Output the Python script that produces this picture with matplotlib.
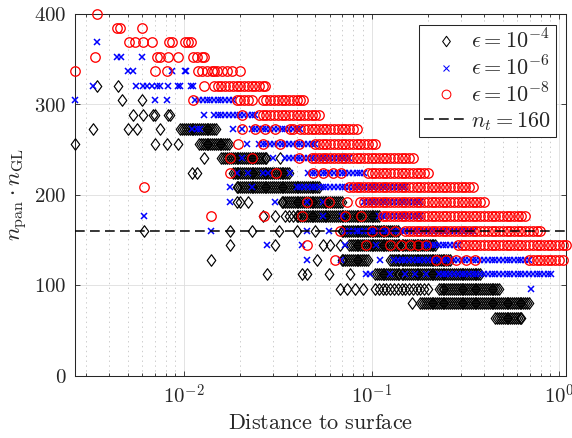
import matplotlib
matplotlib.use('Agg')
import matplotlib.pyplot as plt
from matplotlib.path import Path
from matplotlib.lines import Line2D

plt.rcParams['mathtext.fontset'] = 'cm'
plt.rcParams['font.family'] = ['DejaVu Serif']
plt.rcParams['axes.unicode_minus'] = False
plt.rcParams['lines.scale_dashes'] = False

# ---------------- data ----------------
levels = [400, 384, 368, 352, 336, 320, 304, 288, 272, 256, 240, 224,
          208, 192, 176, 160, 144, 128, 112, 96, 80, 64]

# epsilon = 1e-4 (black diamonds): x positions per level
eps4_x = [
    [], [], [], [], [],
    [0.00345, 0.00447],
    [0.00465, 0.00594],
    [0.00537, 0.00606, 0.00686, 0.00700, 0.00825, 0.00842],
    [0.00328, 0.00505, 0.00559, 0.00745, 0.00955, 0.00977, 0.0100, 0.0102, 0.0105, 0.0107, 0.0110, 0.0112, 0.0115, 0.0117, 0.0120, 0.0123, 0.0126, 0.0129, 0.0132, 0.0135, 0.0138, 0.0141, 0.0145, 0.0148],
    [0.00262, 0.00700, 0.00810, 0.00930, 0.0120, 0.0123, 0.0126, 0.0129, 0.0132, 0.0135, 0.0138, 0.0141, 0.0145, 0.0148, 0.0151, 0.0155, 0.0158, 0.0162, 0.0166, 0.0170, 0.0174],
    [0.0127, 0.0158, 0.0162, 0.0166, 0.0170, 0.0174, 0.0178, 0.0182, 0.0186, 0.0191, 0.0195, 0.0200, 0.0204, 0.0209, 0.0214, 0.0219, 0.0224, 0.0229, 0.0234, 0.0240, 0.0245, 0.0251, 0.0257, 0.0263, 0.0269, 0.0275, 0.0325],
    [0.0110, 0.0117, 0.0182, 0.0186, 0.0191, 0.0195, 0.0200, 0.0204, 0.0209, 0.0214, 0.0219, 0.0224, 0.0229, 0.0234, 0.0240, 0.0245, 0.0251, 0.0257, 0.0263, 0.0269, 0.0275, 0.0282, 0.0288, 0.0295, 0.0302, 0.0309, 0.0316, 0.0324, 0.0331, 0.0339, 0.0347, 0.0355, 0.0363],
    [0.0191, 0.0195, 0.0200, 0.0204, 0.0209, 0.0214, 0.0219, 0.0224, 0.0229, 0.0234, 0.0240, 0.0245, 0.0251, 0.0257, 0.0263, 0.0269, 0.0275, 0.0282, 0.0288, 0.0295, 0.0302, 0.0309, 0.0316, 0.0324, 0.0331, 0.0339, 0.0347, 0.0355, 0.0363, 0.0372, 0.0380, 0.0389, 0.0398, 0.0407, 0.0417, 0.0427, 0.0437, 0.0447, 0.0457, 0.0468, 0.0479, 0.0490, 0.0501, 0.0513, 0.0525],
    [0.0191, 0.0199, 0.0220, 0.0331, 0.0339, 0.0347, 0.0355, 0.0363, 0.0372, 0.0380, 0.0389, 0.0398, 0.0407, 0.0417, 0.0427, 0.0437, 0.0447, 0.0457, 0.0468, 0.0479, 0.0490, 0.0501, 0.0513, 0.0525, 0.0537, 0.0550, 0.0562, 0.0575, 0.0589, 0.0603, 0.0617, 0.0631, 0.0646, 0.0661, 0.0676, 0.0692],
    [0.0265, 0.0306, 0.0347, 0.0363, 0.0380, 0.0398, 0.0407, 0.0417, 0.0427, 0.0437, 0.0447, 0.0457, 0.0468, 0.0479, 0.0490, 0.0501, 0.0513, 0.0525, 0.0537, 0.0550, 0.0562, 0.0575, 0.0589, 0.0603, 0.0617, 0.0631, 0.0646, 0.0661, 0.0676, 0.0692, 0.0708, 0.0724, 0.0741, 0.0759, 0.0776, 0.0794, 0.0813, 0.0832, 0.0851, 0.0871, 0.0891, 0.0912, 0.0933, 0.0955, 0.0977, 0.100, 0.102, 0.105, 0.107, 0.110],
    [0.0061, 0.0176, 0.0229, 0.0320, 0.0398, 0.0500, 0.0692, 0.0708, 0.0724, 0.0741, 0.0759, 0.0776, 0.0794, 0.0813, 0.0832, 0.0851, 0.0871, 0.0891, 0.0912, 0.0933, 0.0955, 0.0977, 0.100, 0.102, 0.105, 0.107, 0.110, 0.112, 0.115, 0.117, 0.120, 0.123, 0.126, 0.129, 0.132, 0.135, 0.138],
    [0.0176, 0.0306, 0.0550, 0.0600, 0.0680, 0.0759, 0.0776, 0.0794, 0.0813, 0.0832, 0.0851, 0.0871, 0.0891, 0.0912, 0.0933, 0.0955, 0.0977, 0.100, 0.102, 0.105, 0.107, 0.110, 0.112, 0.115, 0.117, 0.120, 0.123, 0.126, 0.129, 0.132, 0.135, 0.138, 0.141, 0.145, 0.148, 0.151, 0.155, 0.158, 0.162, 0.166, 0.170, 0.174, 0.178, 0.182, 0.186, 0.191, 0.195, 0.200, 0.204, 0.209, 0.214, 0.219],
    [0.0140, 0.0510, 0.0692, 0.0708, 0.0724, 0.0741, 0.0759, 0.0776, 0.0794, 0.0813, 0.0832, 0.0851, 0.0871, 0.0891, 0.0912, 0.0933, 0.0955, 0.126, 0.129, 0.132, 0.135, 0.138, 0.141, 0.145, 0.148, 0.151, 0.155, 0.158, 0.162, 0.166, 0.170, 0.174, 0.178, 0.182, 0.186, 0.191, 0.195, 0.200, 0.204, 0.209, 0.214, 0.219, 0.224, 0.229, 0.234, 0.240, 0.245, 0.251, 0.257, 0.263],
    [0.0276, 0.0424, 0.0450, 0.0590, 0.0768, 0.105, 0.107, 0.110, 0.112, 0.115, 0.117, 0.120, 0.123, 0.126, 0.129, 0.132, 0.135, 0.138, 0.141, 0.145, 0.148, 0.151, 0.155, 0.158, 0.162, 0.166, 0.170, 0.174, 0.178, 0.182, 0.186, 0.191, 0.195, 0.200, 0.204, 0.209, 0.214, 0.219, 0.224, 0.229, 0.234, 0.240, 0.245, 0.251, 0.257, 0.263, 0.269, 0.275, 0.282, 0.288, 0.295, 0.302, 0.309, 0.316, 0.324, 0.331, 0.339, 0.347, 0.355, 0.363, 0.372, 0.380],
    [0.0680, 0.0740, 0.0820, 0.0900, 0.105, 0.110, 0.115, 0.120, 0.126, 0.132, 0.138, 0.145, 0.151, 0.158, 0.166, 0.174, 0.182, 0.191, 0.200, 0.229, 0.234, 0.240, 0.245, 0.251, 0.257, 0.263, 0.269, 0.275, 0.282, 0.288, 0.295, 0.302, 0.309, 0.316, 0.324, 0.331, 0.339, 0.347, 0.355, 0.363, 0.372, 0.380, 0.389, 0.398, 0.407, 0.417, 0.427, 0.437, 0.447, 0.457, 0.468, 0.479],
    [0.165, 0.182, 0.186, 0.191, 0.195, 0.200, 0.204, 0.209, 0.214, 0.219, 0.224, 0.229, 0.234, 0.240, 0.245, 0.251, 0.257, 0.263, 0.269, 0.275, 0.282, 0.288, 0.295, 0.302, 0.309, 0.316, 0.324, 0.331, 0.339, 0.347, 0.355, 0.363, 0.372, 0.380, 0.389, 0.398, 0.407, 0.417, 0.427, 0.437, 0.447, 0.457, 0.468, 0.479, 0.490, 0.501, 0.513, 0.525, 0.537, 0.550, 0.562, 0.575, 0.589, 0.603, 0.617, 0.631, 0.646, 0.661, 0.676, 0.692],
    [0.457, 0.468, 0.479, 0.490, 0.501, 0.513, 0.525, 0.537, 0.550, 0.562, 0.575, 0.589, 0.603, 0.617, 0.631],
]

# epsilon = 1e-6 (blue crosses)
eps6_x = [
    [], [],
    [0.00342],
    [0.00441, 0.00459, 0.00594],
    [0.00505, 0.00537, 0.00860, 0.0101, 0.0103],
    [0.00328, 0.00554, 0.00602, 0.00637, 0.00673, 0.00715, 0.00745, 0.00825, 0.00932, 0.00952, 0.0109, 0.0112],
    [0.00262, 0.00700, 0.00815, 0.0115, 0.0120, 0.0126, 0.0132, 0.0138, 0.0145, 0.0151, 0.0158, 0.0166, 0.0174, 0.0182],
    [0.0127, 0.0145, 0.0151, 0.0158, 0.0166, 0.0174, 0.0182, 0.0191, 0.0200, 0.0209, 0.0219, 0.0229, 0.0240],
    [0.0110, 0.0117, 0.0122, 0.0183, 0.0203, 0.0229, 0.0240, 0.0251, 0.0263, 0.0275, 0.0288, 0.0302, 0.0316, 0.0331, 0.0347, 0.0363, 0.0380, 0.0398, 0.0417],
    [0.0216, 0.0251, 0.0263, 0.0275, 0.0288, 0.0302, 0.0316, 0.0331, 0.0347, 0.0363, 0.0380, 0.0398, 0.0417, 0.0437, 0.0457, 0.0479, 0.0501],
    [0.0203, 0.0300, 0.0347, 0.0363, 0.0380, 0.0398, 0.0417, 0.0437, 0.0457, 0.0479, 0.0501, 0.0525, 0.0550, 0.0575, 0.0603, 0.0631, 0.0661, 0.0692, 0.0724, 0.0759],
    [0.0191, 0.0220, 0.0265, 0.0280, 0.0367, 0.0457, 0.0479, 0.0501, 0.0525, 0.0550, 0.0575, 0.0603, 0.0631, 0.0661, 0.0692, 0.0724, 0.0759, 0.0794, 0.0832, 0.0871, 0.0912],
    [0.0176, 0.0229, 0.0398, 0.0417, 0.0437, 0.0457, 0.0479, 0.0501, 0.0525, 0.0550, 0.0575, 0.0603, 0.0631, 0.0661, 0.0692, 0.0724, 0.0759, 0.0794, 0.0832, 0.0871, 0.0912, 0.0955, 0.100, 0.105, 0.110, 0.115, 0.120, 0.126, 0.132, 0.138, 0.145, 0.151],
    [0.0176, 0.0306, 0.0450, 0.0550, 0.0912, 0.0955, 0.100, 0.105, 0.110, 0.115, 0.120, 0.126, 0.132, 0.138, 0.145, 0.151, 0.158, 0.166, 0.174, 0.182],
    [0.0061, 0.0550, 0.0700, 0.110, 0.115, 0.120, 0.126, 0.132, 0.138, 0.145, 0.151, 0.158, 0.166, 0.174, 0.182],
    [0.0140, 0.0450, 0.0590, 0.0724, 0.0759, 0.0794, 0.0832, 0.0871, 0.0912, 0.0955, 0.100, 0.105, 0.110, 0.115, 0.120, 0.126, 0.132, 0.138, 0.145, 0.151, 0.158, 0.166, 0.174, 0.182, 0.191, 0.200, 0.209, 0.219, 0.229, 0.240, 0.251, 0.263, 0.275, 0.288, 0.302, 0.316, 0.331, 0.347],
    [0.0276, 0.0424, 0.0720, 0.106, 0.191, 0.200, 0.209, 0.219, 0.229, 0.240, 0.251, 0.263, 0.275, 0.288],
    [0.0450, 0.0690, 0.111, 0.132, 0.138, 0.145, 0.151, 0.158, 0.166, 0.174, 0.182, 0.191, 0.200, 0.209, 0.219, 0.229, 0.240, 0.251, 0.263, 0.275, 0.288, 0.302, 0.316, 0.331, 0.347, 0.363, 0.380, 0.398, 0.417, 0.437, 0.457, 0.479, 0.501, 0.525, 0.550, 0.575, 0.603, 0.631, 0.661, 0.692],
    [0.0940, 0.0980, 0.126, 0.150, 0.170, 0.196, 0.228, 0.240, 0.251, 0.263, 0.275, 0.288, 0.302, 0.316, 0.331, 0.347, 0.363, 0.380, 0.398, 0.417, 0.437, 0.457, 0.479, 0.501, 0.525, 0.550, 0.575, 0.603, 0.631, 0.661, 0.692, 0.724, 0.759, 0.794, 0.832, 0.871, 0.912],
    [0.710],
    [],
    [],
]

# epsilon = 1e-8 (red circles)
eps8_x = [
    [0.00342],
    [0.00441, 0.00456, 0.00594],
    [0.00510, 0.00548, 0.00606, 0.00673, 0.00835, 0.00860, 0.0101, 0.0105, 0.0109],
    [0.00335, 0.00714, 0.00745, 0.00824, 0.00933, 0.0112, 0.0117, 0.0124, 0.0127],
    [0.00262, 0.00700, 0.00809, 0.0118, 0.0124, 0.0132, 0.0141, 0.0145, 0.0149, 0.0159, 0.0169, 0.0180, 0.0199],
    [0.0127, 0.0145, 0.0151, 0.0158, 0.0166, 0.0174, 0.0182, 0.0191, 0.0200, 0.0209, 0.0219, 0.0229, 0.0240, 0.0251, 0.0263, 0.0270],
    [0.0111, 0.0191, 0.0200, 0.0209, 0.0219, 0.0229, 0.0263, 0.0275, 0.0288, 0.0302, 0.0316, 0.0331, 0.0347, 0.0363, 0.0380, 0.0398, 0.0417, 0.0432],
    [0.0203, 0.0251, 0.0263, 0.0275, 0.0288, 0.0302, 0.0316, 0.0331, 0.0347, 0.0363, 0.0380, 0.0398, 0.0417, 0.0437, 0.0457, 0.0479, 0.0501, 0.0525],
    [0.0203, 0.0239, 0.0270, 0.0306, 0.0367, 0.0383, 0.0417, 0.0437, 0.0457, 0.0479, 0.0501, 0.0525, 0.0550, 0.0575, 0.0603, 0.0631, 0.0661, 0.0692, 0.0724, 0.0759, 0.0794, 0.0832],
    [0.0195, 0.0265, 0.0325, 0.0408, 0.0501, 0.0525, 0.0550, 0.0575, 0.0603, 0.0631, 0.0661, 0.0692, 0.0724, 0.0759, 0.0794, 0.0832, 0.0871, 0.0912, 0.0955, 0.100, 0.105],
    [0.0176, 0.0229, 0.0408, 0.0479, 0.0501, 0.0525, 0.0550, 0.0575, 0.0603, 0.0631, 0.0661, 0.0692, 0.0724, 0.0759, 0.0794, 0.0832, 0.0871, 0.0912, 0.0955, 0.100, 0.105, 0.110, 0.115, 0.120, 0.126, 0.132, 0.138, 0.145, 0.151, 0.158, 0.166],
    [0.0176, 0.0310, 0.0490, 0.0550, 0.0620, 0.0690, 0.0955, 0.100, 0.105, 0.110, 0.115, 0.120, 0.126, 0.132, 0.138, 0.145, 0.151, 0.158, 0.166, 0.174, 0.182, 0.191, 0.200],
    [0.0061, 0.0759, 0.0794, 0.0832, 0.0871, 0.0912, 0.0955, 0.100, 0.105, 0.110, 0.115, 0.120, 0.126, 0.132, 0.138, 0.145, 0.151, 0.158, 0.166, 0.174, 0.182, 0.191, 0.200, 0.209, 0.219, 0.229, 0.240, 0.251, 0.263, 0.275, 0.288, 0.302, 0.316, 0.331, 0.347],
    [0.0450, 0.0590, 0.0740, 0.0870, 0.0912, 0.0955, 0.100, 0.105, 0.110, 0.115, 0.120, 0.126, 0.132, 0.138, 0.145, 0.151, 0.158, 0.166, 0.174, 0.182, 0.191, 0.200, 0.209, 0.219, 0.229, 0.240, 0.251, 0.263, 0.275, 0.288, 0.302, 0.316, 0.331, 0.347, 0.363, 0.380, 0.398],
    [0.0140, 0.0267, 0.0424, 0.0720, 0.0880, 0.115, 0.120, 0.126, 0.132, 0.138, 0.145, 0.151, 0.158, 0.166, 0.174, 0.182, 0.191, 0.200, 0.209, 0.219, 0.229, 0.240, 0.251, 0.263, 0.275, 0.288, 0.302, 0.316, 0.331, 0.347, 0.363, 0.380, 0.398, 0.417, 0.437, 0.457, 0.479, 0.501, 0.525, 0.550, 0.575, 0.603, 0.631, 0.661],
    [0.0680, 0.100, 0.116, 0.133, 0.151, 0.158, 0.166, 0.174, 0.182, 0.191, 0.200, 0.209, 0.219, 0.229, 0.240, 0.251, 0.263, 0.275, 0.288, 0.302, 0.316, 0.331, 0.347, 0.363, 0.380, 0.398, 0.417, 0.437, 0.457, 0.479, 0.501, 0.525, 0.550, 0.575, 0.603, 0.631, 0.661, 0.692, 0.724, 0.759, 0.794],
    [0.0450, 0.0940, 0.126, 0.144, 0.160, 0.177, 0.196, 0.288, 0.302, 0.316, 0.331, 0.347, 0.363, 0.380, 0.398, 0.417, 0.437, 0.457, 0.479, 0.501, 0.525, 0.550, 0.575, 0.603, 0.631, 0.661, 0.692, 0.724, 0.759, 0.794, 0.832, 0.871, 0.912, 0.955, 1.00, 1.05, 1.09],
    [0.0638, 0.222, 0.250, 0.284, 0.320, 0.357, 0.692, 0.724, 0.759, 0.794, 0.832, 0.871, 0.912, 0.955, 1.00, 1.05],
    [], [], [], [],
]

threshold_nt = 160
legend_labels = [r'$\epsilon = 10^{-4}$', r'$\epsilon = 10^{-6}$',
                 r'$\epsilon = 10^{-8}$', r'$n_t = 160$']
xtick_vals = [1e-2, 1e-1, 1e0]
xtick_labels = [r'$10^{-2}$', r'$10^{-1}$', r'$10^{0}$']
ytick_vals = [0, 100, 200, 300, 400]
ytick_labels = [r'$0$', r'$100$', r'$200$', r'$300$', r'$400$']


def flatten(xrows):
    xs, ys = [], []
    for lvl, row in zip(levels, xrows):
        for v in row:
            xs.append(v)
            ys.append(lvl)
    return xs, ys


# ---------------- figure ----------------
W, H = 572, 438
fig = plt.figure(figsize=(W / 100, H / 100), dpi=100)
L, R, T, B = 75, 566, 13.5, 375.5
ax = fig.add_axes([L / W, 1 - B / H, (R - L) / W, (B - T) / H])

diamond = Path([(0, 1), (0.74, 0), (0, -1), (-0.74, 0), (0, 1)],
               [Path.MOVETO, Path.LINETO, Path.LINETO, Path.LINETO, Path.CLOSEPOLY])

styles = [
    dict(marker=diamond, ms=8.3, mec='k', mfc='none', mew=0.85),
    dict(marker='x', ms=4.8, mec=(0, 0, 1), mfc='none', mew=1.1),
    dict(marker='o', ms=6.8, mec=(1, 0, 0), mfc='none', mew=0.95),
]
leg_styles = [
    dict(marker=diamond, ms=7.5, mec='k', mfc='none', mew=0.75),
    dict(marker='x', ms=4.3, mec=(0, 0, 1), mfc='none', mew=0.75),
    dict(marker='o', ms=6.3, mec=(1, 0, 0), mfc='none', mew=0.75),
]

all_x = []
for xrows, st in zip([eps4_x, eps6_x, eps8_x], styles):
    xs, ys = flatten(xrows)
    all_x += xs
    ax.plot(xs, ys, linestyle='none', clip_on=False, zorder=3, **st)

dash = (7.0, 3.8)
ax.axhline(threshold_nt, color='k', lw=1.1, dashes=dash, zorder=4)

ax.set_xscale('log')
ax.set_xlim(min(all_x), max(all_x))
ax.set_ylim(0, 400)

ax.set_xticks(xtick_vals)
ax.set_xticklabels(xtick_labels)
ax.set_yticks(ytick_vals)
ax.set_yticklabels(ytick_labels)
ax.yaxis.set_minor_locator(matplotlib.ticker.NullLocator())
ax.xaxis.set_minor_locator(matplotlib.ticker.LogLocator(base=10, subs=range(2, 10), numticks=20))
ax.xaxis.set_minor_formatter(matplotlib.ticker.NullFormatter())

axcol = '#262626'
ax.tick_params(which='both', direction='in', top=True, right=True,
               colors=axcol, labelsize=15, width=0.6)
ax.tick_params(which='major', length=3.6, pad=6)
ax.tick_params(which='minor', length=2.0)
for sp in ax.spines.values():
    sp.set_color(axcol)
    sp.set_linewidth(0.75)

ax.grid(True, which='major', color='#dedede', lw=0.6, ls='-')
ax.grid(True, which='minor', axis='x', color='#c4c4c4', lw=0.6, dashes=(1, 2.5))
ax.set_axisbelow(True)

ax.set_xlabel(r'$\mathrm{Distance\ to\ surface}$', fontsize=16, color=axcol, labelpad=3)
ax.set_ylabel(r'$n_{\mathrm{pan}}\cdot n_{\mathrm{GL}}$', fontsize=16.5, color=axcol, labelpad=3)

handles = [
    Line2D([], [], linestyle='none', **leg_styles[0]),
    Line2D([], [], linestyle='none', **leg_styles[1]),
    Line2D([], [], linestyle='none', **leg_styles[2]),
    Line2D([], [], color='k', lw=1.1, dashes=dash),
]
ax_w, ax_h = R - L, B - T
leg_fs = 16
fs_px = leg_fs * 100 / 72
want_right, want_top = 555.5, 25.0          # frame, pixels from top-left
want_span, want_height = 120.0 - 41.7, 112.3
lspace, bpad = 0.1, 0.2
anchor = [(want_right - L) / ax_w, (B - want_top) / ax_h]


def make_legend():
    lg = ax.legend(handles, legend_labels, loc='upper right',
                   bbox_to_anchor=tuple(anchor), borderaxespad=0,
                   fontsize=leg_fs, handlelength=2.0, handletextpad=0.12,
                   labelspacing=lspace, borderpad=bpad, fancybox=False,
                   framealpha=1, edgecolor=axcol)
    lg.get_frame().set_linewidth(0.75)
    for t in lg.get_texts():
        t.set_color(axcol)
    return lg


leg = make_legend()
for _ in range(4):
    fig.canvas.draw()
    rnd = fig.canvas.get_renderer()
    hs = leg.legend_handles
    c0 = hs[0].get_window_extent(rnd)
    c3 = hs[3].get_window_extent(rnd)
    span = (c0.y0 + c0.y1) / 2 - (c3.y0 + c3.y1) / 2
    lspace += (want_span - span) / 3 / fs_px
    fb = leg.get_frame().get_window_extent(rnd)
    bpad += (want_height - fb.height) / 2 / fs_px
    bpad = max(bpad, 0.0)
    # shift anchor so the frame's top-right corner lands at the wanted place
    dx = (want_right - fb.x1) / ax_w
    dy = ((H - want_top) - fb.y1) / ax_h
    anchor[0] += dx
    anchor[1] += dy
    leg.remove()
    leg = make_legend()

fig.savefig('out.png', dpi=100)
